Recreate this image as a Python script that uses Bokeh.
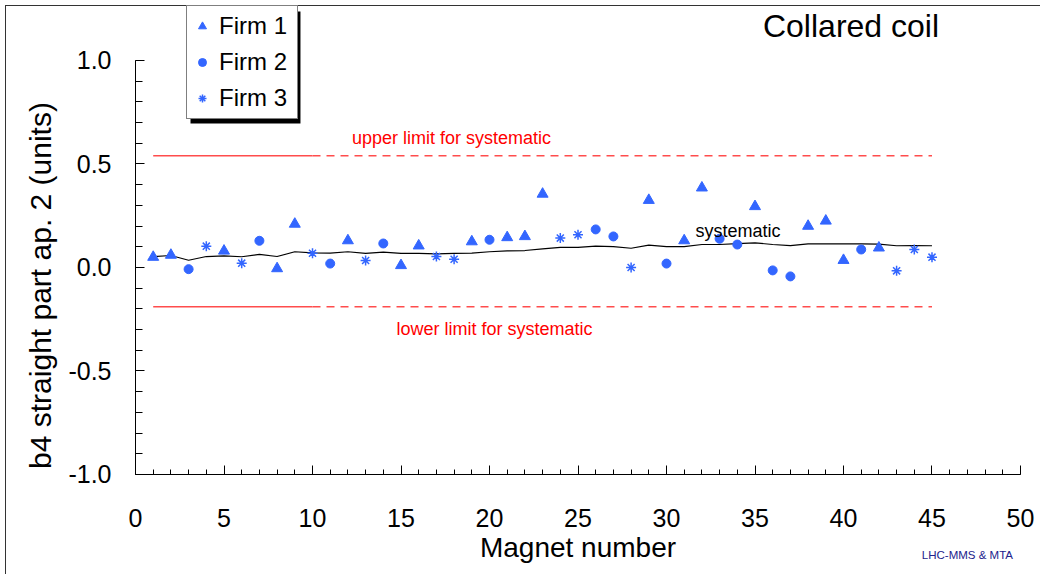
import math
from bokeh.plotting import figure
from bokeh.models import Range1d, FixedTicker, Label, Legend, LegendItem, BoxAnnotation
from bokeh.embed import file_html
from bokeh.resources import INLINE

# ---------------- data ----------------
firm1_x = [1, 2, 5, 8, 9, 12, 15, 16, 19, 21, 22, 23, 29, 31, 32, 35, 38, 39, 40, 42]
firm1_y = [0.05, 0.06, 0.08, -0.005, 0.21, 0.13, 0.01, 0.105, 0.125, 0.145, 0.15, 0.355,
           0.325, 0.13, 0.385, 0.295, 0.20, 0.225, 0.035, 0.095]

firm2_x = [3, 7, 11, 14, 20, 26, 27, 30, 33, 34, 36, 37, 41]
firm2_y = [-0.008, 0.129, 0.019, 0.116, 0.134, 0.184, 0.150, 0.019, 0.139, 0.111,
           -0.014, -0.043, 0.087]

firm3_x = [4, 6, 10, 13, 17, 18, 24, 25, 28, 43, 44, 45]
firm3_y = [0.103, 0.021, 0.069, 0.034, 0.053, 0.040, 0.142, 0.158, 0.000, -0.016, 0.087, 0.050]

systematic_x = list(range(1, 46))
systematic_y = [0.053, 0.058, 0.035, 0.053, 0.056, 0.052, 0.063, 0.053, 0.076, 0.071,
                0.069, 0.076, 0.068, 0.074, 0.068, 0.068, 0.066, 0.068, 0.069, 0.076,
                0.080, 0.082, 0.090, 0.097, 0.097, 0.103, 0.101, 0.093, 0.108, 0.101,
                0.101, 0.111, 0.111, 0.115, 0.119, 0.111, 0.106, 0.114, 0.114, 0.114,
                0.114, 0.113, 0.105, 0.106, 0.105]

limit_solid_x = [1, 10]
limit_dashed_x = [10, 45]
upper_limit = 0.54
lower_limit = -0.19

x_ticks = [0, 5, 10, 15, 20, 25, 30, 35, 40, 45, 50]
x_tick_labels = ["0", "5", "10", "15", "20", "25", "30", "35", "40", "45", "50"]
y_ticks = [-1.0, -0.5, 0.0, 0.5, 1.0]
y_tick_labels = ["-1.0", "-0.5", "0.0", "0.5", "1.0"]

series_names = ["Firm 1", "Firm 2", "Firm 3"]

# ---------------- style ----------------
FONT = "Liberation Sans"
BLUE = "#3366FF"
RED_LINE = "#FF4D4D"
RED_TEXT = "#FF0000"

# the plot area covers the whole canvas; the axes sit at fixed data locations
p = figure(width=1035, height=569, margin=(5, 0, 0, 5),
           x_range=Range1d(-7.345, 51.13), y_range=Range1d(-1.4831, 1.2657),
           output_backend="svg", toolbar_location=None,
           min_border_left=0, min_border_right=0, min_border_top=0, min_border_bottom=0,
           border_fill_color=None, background_fill_color=None, outline_line_color=None,
           styles={"box-shadow": "inset 1px 1px 0 0 #333333"})
p.xgrid.grid_line_color = None
p.ygrid.grid_line_color = None

# x axis
xa = p.xaxis[0]
xa.fixed_location = -1.0
xa.bounds = (0, 50)
xa.ticker = FixedTicker(ticks=x_ticks, minor_ticks=list(range(0, 51)))
xa.major_label_overrides = dict(zip(x_ticks, x_tick_labels))
xa.major_tick_in = 9
xa.major_tick_out = 0
xa.minor_tick_in = 5
xa.minor_tick_out = 0
xa.major_label_standoff = 35
xa.major_label_text_font = FONT
xa.major_label_text_font_size = "25px"
xa.major_label_text_color = "black"
xa.axis_label = "Magnet number"
xa.axis_label_text_font = FONT
xa.axis_label_text_font_size = "28px"
xa.axis_label_text_font_style = "normal"
xa.axis_label_text_color = "black"
xa.axis_label_standoff = 1
xa.axis_line_color = "black"

# y axis
ya = p.yaxis[0]
ya.fixed_location = 0
ya.bounds = (-1.0, 1.0)
ya.ticker = FixedTicker(ticks=y_ticks, minor_ticks=[round(-1.0 + 0.1 * i, 1) for i in range(21)])
ya.major_label_overrides = dict(zip(y_ticks, y_tick_labels))
ya.major_tick_in = 9
ya.major_tick_out = 0
ya.minor_tick_in = 7
ya.minor_tick_out = 0
ya.major_label_standoff = 24
ya.major_label_text_font = FONT
ya.major_label_text_font_size = "25px"
ya.major_label_text_color = "black"
ya.axis_line_color = "black"

# y axis title (placed lower than the centre of the axis, as in the reference)
p.add_layout(Label(x=-5.37, y=-0.087, angle=math.pi / 2,
                   text="b4 straight part ap. 2 (units)", text_color="black",
                   text_font=FONT, text_font_size="30px", text_align="center",
                   text_baseline="middle"))

# limit lines
p.line(limit_solid_x, [upper_limit] * len(limit_solid_x), line_color=RED_LINE, line_width=1.5)
p.line(limit_dashed_x, [upper_limit] * len(limit_dashed_x), line_color=RED_LINE, line_width=1.5,
       line_dash="8 6")
p.line(limit_solid_x, [lower_limit] * len(limit_solid_x), line_color=RED_LINE, line_width=1.5)
p.line(limit_dashed_x, [lower_limit] * len(limit_dashed_x), line_color=RED_LINE, line_width=1.5,
       line_dash="8 6")

# systematic line
p.line(systematic_x, systematic_y, line_color="black", line_width=1.2)

# markers
r1 = p.scatter(firm1_x, firm1_y, marker="triangle", size=11, fill_color=BLUE, line_color=BLUE)
r2 = p.scatter(firm2_x, firm2_y, marker="circle", size=9, fill_color=BLUE, line_color=BLUE)
r3 = p.scatter(firm3_x, firm3_y, marker="asterisk", size=10, line_color=BLUE, line_width=1.5)

# texts
p.add_layout(Label(x=17.85, y=0.628, text="upper limit for systematic", text_color=RED_TEXT,
                   text_font=FONT, text_font_size="18px", text_align="center",
                   text_baseline="middle"))
p.add_layout(Label(x=20.28, y=-0.295, text="lower limit for systematic", text_color=RED_TEXT,
                   text_font=FONT, text_font_size="18px", text_align="center",
                   text_baseline="middle"))
p.add_layout(Label(x=31.64, y=0.174, text="systematic", text_color="black",
                   text_font=FONT, text_font_size="18px", text_align="left",
                   text_baseline="middle"))
p.add_layout(Label(x=35.45, y=1.169, text="Collared coil", text_color="black",
                   text_font=FONT, text_font_size="32px", text_align="left",
                   text_baseline="middle"))
p.add_layout(Label(x=47.0, y=-1.391, text="LHC-MMS & MTA", text_color="#22228C",
                   text_font=FONT, text_font_size="11.5px", text_align="center",
                   text_baseline="middle"))

# legend shadow + legend
p.add_layout(BoxAnnotation(left=3.107, right=9.32, top=1.2367, bottom=0.696,
                           fill_color="black", fill_alpha=1.0, line_color=None))
legend = Legend(items=[LegendItem(label=series_names[0], renderers=[r1]),
                       LegendItem(label=series_names[1], renderers=[r2]),
                       LegendItem(label=series_names[2], renderers=[r3])],
                location=(181, 455), orientation="vertical",
                border_line_color="black", border_line_width=1,
                background_fill_color="white", background_fill_alpha=1.0,
                label_text_font=FONT, label_text_font_size="24px", label_text_color="black",
                padding=5, spacing=6, margin=0,
                glyph_width=20, glyph_height=30, label_height=30, label_width=73,
                label_standoff=7)
p.add_layout(legend)

open("out.html", "w").write(file_html(p, INLINE))
